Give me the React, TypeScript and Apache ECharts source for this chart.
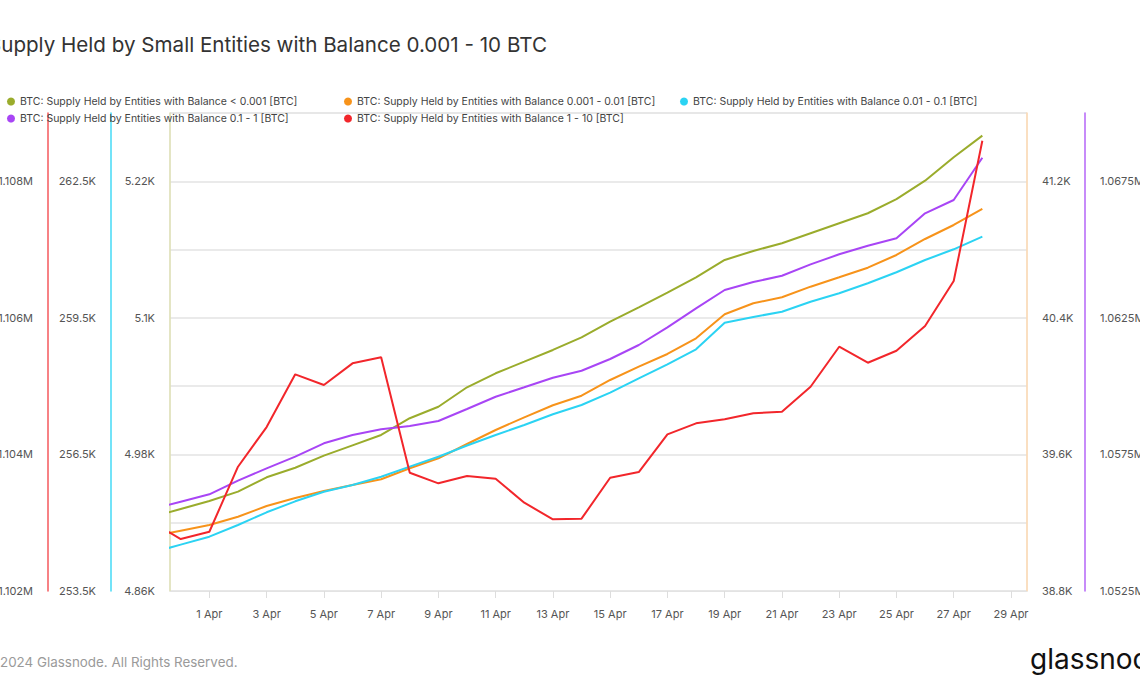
import React, { useEffect, useRef } from "react";
import * as echarts from "echarts";

const dates = [
  "2024-03-30", "2024-03-31", "2024-04-01", "2024-04-02", "2024-04-03", "2024-04-04",
  "2024-04-05", "2024-04-06", "2024-04-07", "2024-04-08", "2024-04-09", "2024-04-10",
  "2024-04-11", "2024-04-12", "2024-04-13", "2024-04-14", "2024-04-15", "2024-04-16",
  "2024-04-17", "2024-04-18", "2024-04-19", "2024-04-20", "2024-04-21", "2024-04-22",
  "2024-04-23", "2024-04-24", "2024-04-25", "2024-04-26", "2024-04-27", "2024-04-28",
];

// BTC: < 0.001
const seriesLt0001 = [
  4925.0, 4932.1, 4939.1, 4947.3, 4959.9, 4968.3, 4978.9, 4988.0, 4997.1, 5011.8,
  5021.9, 5039.0, 5051.3, 5061.5, 5071.8, 5082.9, 5096.6, 5109.3, 5122.1, 5135.6,
  5150.9, 5158.8, 5165.5, 5174.3, 5183.1, 5191.9, 5204.4, 5220.5, 5241.1, 5260.1,
];
// BTC: 0.001 - 0.01
const series0001to001 = [
  39119.8, 39153.2, 39186.6, 39235.2, 39297.9, 39344.8, 39385.8, 39420.9, 39454.3, 39518.8,
  39577.4, 39661.1, 39743.1, 39817.5, 39887.8, 39944.1, 40036.0, 40114.0, 40188.3, 40280.3,
  40420.9, 40485.3, 40520.5, 40582.6, 40637.6, 40693.9, 40768.3, 40862.0, 40944.0, 41037.8,
];
// BTC: 0.01 - 0.1
const series001to01 = [
  254346, 254519, 254693, 254950, 255229, 255470, 255681, 255829, 256011, 256231,
  256450, 256696, 256927, 257147, 257382, 257586, 257856, 258172, 258480, 258809,
  259394, 259519, 259635, 259855, 260040, 260259, 260501, 260771, 261006, 261283,
];
// BTC: 0.1 - 1
const series01to1 = [
  1055495, 1055769, 1056040, 1056538, 1056992, 1057417, 1057907, 1058211, 1058420, 1058541,
  1058724, 1059163, 1059613, 1059957, 1060309, 1060565, 1060994, 1061506, 1062154, 1062850,
  1063520, 1063812, 1064043, 1064460, 1064827, 1065141, 1065412, 1066328, 1066815, 1068363,
];
// BTC: 1 - 10
const series1to10 = [
  1103010, 1102761, 1102868, 1103820, 1104401, 1105173, 1105016, 1105334, 1105422, 1103732,
  1103577, 1103684, 1103644, 1103293, 1103050, 1103059, 1103659, 1103742, 1104294, 1104455,
  1104514, 1104602, 1104625, 1104991, 1105577, 1105343, 1105518, 1105880, 1106539, 1108594,
];

const seriesNames = [
  "BTC: Supply Held by Entities with Balance < 0.001 [BTC]",
  "BTC: Supply Held by Entities with Balance 0.001 - 0.01 [BTC]",
  "BTC: Supply Held by Entities with Balance 0.01 - 0.1 [BTC]",
  "BTC: Supply Held by Entities with Balance 0.1 - 1 [BTC]",
  "BTC: Supply Held by Entities with Balance 1 - 10 [BTC]",
];

const xTickDays = [0, 2, 4, 6, 8, 10, 12, 14, 16, 18, 20, 22, 24, 26, 28];
const xTickLabels = [
  "1 Apr", "3 Apr", "5 Apr", "7 Apr", "9 Apr", "11 Apr", "13 Apr", "15 Apr",
  "17 Apr", "19 Apr", "21 Apr", "23 Apr", "25 Apr", "27 Apr", "29 Apr",
];

const ticksLt0001 = [4860, 4980, 5100, 5220];
const ticks001to01 = [253500, 256500, 259500, 262500];
const ticks1to10 = [1102000, 1104000, 1106000, 1108000];
const ticks0001to001 = [38800, 39600, 40400, 41200];
const ticks01to1 = [1052500, 1057500, 1062500, 1067500];

const title = "Supply Held by Small Entities with Balance 0.001 - 10 BTC";
const footer = "© 2024 Glassnode. All Rights Reserved.";

const FONT = "Inter, 'Noto Sans', sans-serif";
const ORIGIN = Date.parse("2024-04-01T00:00:00Z");
const dayOffset = (d: string) => (Date.parse(d + "T00:00:00Z") - ORIGIN) / 86400000;

const fmtK = (v: number) => parseFloat((v / 1000).toFixed(3)) + "K";
const fmtM = (v: number) => parseFloat((v / 1e6).toFixed(4)) + "M";

export default function App() {
  const ref = useRef<HTMLDivElement>(null);
  useEffect(() => {
    if (!ref.current) return;
    const chart = echarts.init(ref.current, undefined, { renderer: "svg" });
    const colors = ["#9aac2c", "#f7931a", "#2bd3f3", "#a845f5", "#f2262b"];
    const values = [seriesLt0001, series0001to001, series001to01, series01to1, series1to10];
    const yAxisIdx = [0, 3, 1, 4, 2];

    const labelBase = { fontSize: 11, color: "#555", fontFamily: FONT };
    const mkY = (
      position: string,
      offset: number,
      min: number,
      max: number,
      interval: number,
      ticks: number[],
      fmt: (v: number) => string,
      lineColor: string,
      split: boolean
    ) => ({
      type: "value",
      position,
      offset,
      min,
      max,
      interval,
      axisLine: { show: true, onZero: false, lineStyle: { color: lineColor, width: 1.5 } },
      axisTick: { show: false },
      splitLine: { show: split, lineStyle: { color: "#e3e3e3", width: 1.5 } },
      axisLabel: {
        ...labelBase,
        margin: 15,
        customValues: ticks,
        formatter: (v: number) => fmt(v),
      },
    });

    const legendPos = [
      { left: 7, top: 96 },
      { left: 344, top: 96 },
      { left: 680, top: 96 },
      { left: 7, top: 113 },
      { left: 344, top: 113 },
    ];

    chart.setOption({
      animation: false,
      backgroundColor: "#ffffff",
      textStyle: { fontFamily: FONT },
      grid: {
        left: 170,
        right: 113,
        top: 113,
        bottom: 103,
        show: true,
        borderColor: "#e3e3e3",
        borderWidth: 1,
        containLabel: false,
        outerBoundsMode: "none",
      },
      legend: seriesNames.map((n, i) => ({
        data: [n],
        left: legendPos[i].left,
        top: legendPos[i].top,
        icon: "circle",
        itemWidth: 8,
        itemHeight: 8,
        padding: 0,
        selectedMode: false,
        textStyle: { fontSize: 10.5, color: "#444", fontFamily: FONT },
      })),
      xAxis: {
        type: "value",
        min: -1.375,
        max: 28.56,
        axisLine: { show: true, onZero: false, lineStyle: { color: "#e3e3e3", width: 1 } },
        axisTick: {
          show: true,
          length: 7,
          customValues: xTickDays,
          lineStyle: { color: "#dddddd" },
        },
        splitLine: { show: false },
        axisLabel: {
          ...labelBase,
          margin: 17,
          customValues: xTickDays,
          formatter: (v: number) => xTickLabels[xTickDays.indexOf(Math.round(v))] ?? "",
        },
      },
      yAxis: [
        mkY("left", 0, 4860, 5280, 60, ticksLt0001, fmtK, "#dfe0b4", true),
        mkY("left", 59, 253500, 264000, 1500, ticks001to01, fmtK, "#45daf6", false),
        mkY("left", 122, 1102000, 1109000, 1000, ticks1to10, fmtM, "#f5585c", false),
        mkY("right", 0, 38800, 41600, 400, ticks0001to001, fmtK, "#fcd9b0", false),
        mkY("right", 58, 1052500, 1070000, 2500, ticks01to1, fmtM, "#b565f7", false),
      ],
      series: seriesNames.map((n, i) => ({
        name: n,
        type: "line",
        yAxisIndex: yAxisIdx[i],
        showSymbol: false,
        symbol: "circle",
        color: colors[i],
        lineStyle: { width: 2, color: colors[i] },
        data: dates.map((d, j) => [dayOffset(d), values[i][j]]),
      })),
      graphic: [
        {
          type: "text",
          left: -12,
          top: 34,
          style: { text: title, fontSize: 20.6, fill: "#333", fontFamily: FONT },
        },
        {
          type: "text",
          left: -16,
          top: 655,
          style: { text: footer, fontSize: 13.4, fill: "#9a9a9a", fontFamily: FONT },
        },
        {
          type: "text",
          left: 1030,
          top: 645,
          style: { text: "glassnode", fontSize: 28, fontWeight: 400, fill: "#111", fontFamily: FONT },
        },
      ],
    });
    return () => chart.dispose();
  }, []);
  return <div ref={ref} style={{ position: "absolute", left: 0, top: 0, width: 1140, height: 694 }} />;
}
